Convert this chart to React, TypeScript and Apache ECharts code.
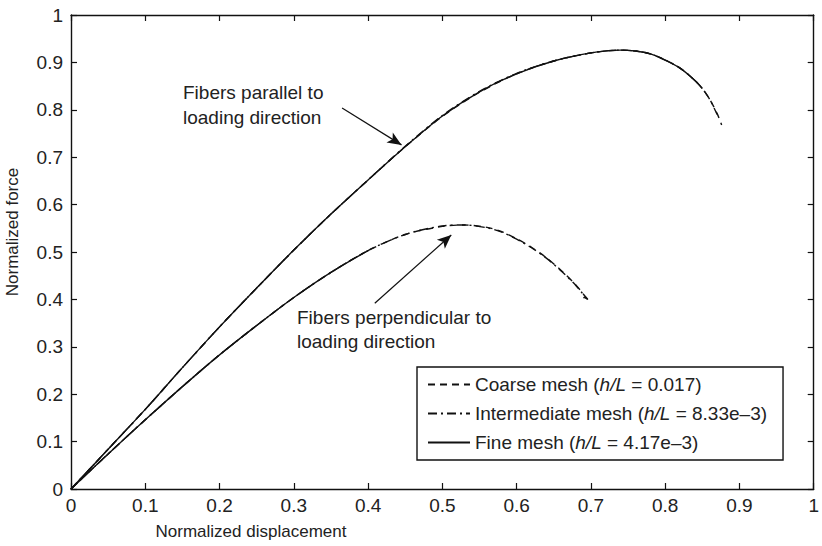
import React, { useEffect, useRef } from "react";
import * as echarts from "echarts";

const FONT = "'Liberation Sans', Arial, Helvetica, sans-serif";
const INK = "#111";

// tick labels
const xTickLabels = ["0", "0.1", "0.2", "0.3", "0.4", "0.5", "0.6", "0.7", "0.8", "0.9", "1"];
const yTickLabels = ["0", "0.1", "0.2", "0.3", "0.4", "0.5", "0.6", "0.7", "0.8", "0.9", "1"];

// Fibers parallel to loading direction
const parX = [0, 0.05, 0.1, 0.15, 0.2, 0.25, 0.3, 0.35, 0.4, 0.45, 0.5, 0.55, 0.6, 0.65, 0.7, 0.74, 0.76, 0.78, 0.8, 0.82, 0.84, 0.85, 0.86, 0.87, 0.876];
const parCoarse = [0, 0.084, 0.168, 0.256, 0.342, 0.424, 0.504, 0.58, 0.652, 0.722, 0.786, 0.837, 0.876, 0.903, 0.92, 0.926, 0.924, 0.918, 0.905, 0.888, 0.862, 0.845, 0.822, 0.792, 0.768];
const parInter = [0, 0.084, 0.168, 0.256, 0.342, 0.424, 0.504, 0.58, 0.652, 0.723, 0.788, 0.839, 0.877, 0.903, 0.92, 0.926, 0.924, 0.918, 0.905, 0.888, 0.862, 0.845, 0.822, 0.79];
const parFine = [0, 0.084, 0.168, 0.256, 0.342, 0.424, 0.504, 0.58, 0.652, 0.722, 0.787, 0.838, 0.876, 0.903, 0.92, 0.926, 0.924, 0.918, 0.905, 0.888, 0.862, 0.845];

// Fibers perpendicular to loading direction
const perpX = [0, 0.05, 0.1, 0.15, 0.2, 0.25, 0.3, 0.35, 0.4, 0.45, 0.5, 0.53, 0.56, 0.58, 0.6, 0.62, 0.64, 0.66, 0.68, 0.69, 0.696, 0.69];
const perpCoarse = [0, 0.074, 0.146, 0.216, 0.283, 0.345, 0.404, 0.457, 0.503, 0.537, 0.554, 0.557, 0.552, 0.543, 0.528, 0.51, 0.488, 0.461, 0.43, 0.411, 0.399, 0.404];
const perpInter = [0, 0.074, 0.146, 0.216, 0.283, 0.345, 0.404, 0.457, 0.503, 0.537, 0.555, 0.557, 0.551, 0.542, 0.527, 0.509, 0.487, 0.46, 0.429, 0.41, 0.4, 0.405];
const perpFine = [0, 0.074, 0.146, 0.216, 0.283, 0.345, 0.404, 0.457, 0.503];

const seriesNames = ["Coarse mesh", "Intermediate mesh", "Fine mesh"];
const legendRatios = ["0.017", "8.33e\u20133", "4.17e\u20133"];

// annotation arrows in data coordinates: [fromX, fromY, toX, toY]
const arrowParallel = [0.365, 0.804, 0.445, 0.726];
const arrowPerp = [0.409, 0.392, 0.512, 0.536];

const DASH: any = {
  "Coarse mesh": [7, 5],
  "Intermediate mesh": [9, 4, 2, 4],
  "Fine mesh": "solid",
};

function mk(name: string, xs: number[], ys: number[], extra: any = {}) {
  return {
    type: "line",
    name,
    data: ys.map((y, i) => [xs[i], y]),
    symbol: "none",
    showSymbol: false,
    smooth: 0.3,
    lineStyle: { color: INK, width: 1.4, type: DASH[name] },
    itemStyle: { color: INK },
    emphasis: { disabled: true },
    animation: false,
    ...extra,
  };
}

export default function App() {
  const ref = useRef<HTMLDivElement>(null);
  useEffect(() => {
    if (!ref.current) return;
    const chart = echarts.init(ref.current, undefined, { renderer: "svg" });
    const axisLine = { show: true, onZero: false, lineStyle: { color: INK, width: 1.4 } };
    const tick = { show: true, inside: true, length: 6, lineStyle: { color: INK, width: 1.2 } };
    const labelStyle = { fontFamily: FONT, fontSize: 19, color: "#222" };
    const option: any = {
      animation: false,
      backgroundColor: "#fff",
      grid: { left: 71, right: 1, top: 15, bottom: 57, containLabel: false },
      xAxis: [
        {
          type: "value", min: 0, max: 1, interval: 0.1, position: "bottom",
          axisLine, axisTick: tick, splitLine: { show: false },
          axisLabel: { ...labelStyle, margin: 7, formatter: (v: number) => xTickLabels[Math.round(v * 10)] },
        },
        {
          type: "value", min: 0, max: 1, interval: 0.1, position: "top",
          axisLine, axisTick: tick, splitLine: { show: false }, axisLabel: { show: false },
        },
      ],
      yAxis: [
        {
          type: "value", min: 0, max: 1, interval: 0.1, position: "left",
          axisLine, axisTick: tick, splitLine: { show: false },
          axisLabel: { ...labelStyle, margin: 8, formatter: (v: number) => yTickLabels[Math.round(v * 10)] },
        },
        {
          type: "value", min: 0, max: 1, interval: 0.1, position: "right",
          axisLine, axisTick: tick, splitLine: { show: false }, axisLabel: { show: false },
        },
      ],
      legend: {
        show: true,
        left: 417,
        top: 367,
        orient: "vertical",
        data: seriesNames,
        backgroundColor: "#fff",
        borderColor: INK,
        borderWidth: 1.4,
        borderRadius: 0,
        padding: [8, 16, 8, 10],
        itemWidth: 42,
        itemHeight: 14,
        itemGap: 10,
        selectedMode: false,
        itemStyle: { opacity: 0 },
        textStyle: {
          fontFamily: FONT, fontSize: 19, color: "#222",
          rich: {
            n: { fontFamily: FONT, fontSize: 19, color: "#222" },
            i: { fontFamily: FONT, fontSize: 19, color: "#222", fontStyle: "italic" },
          },
        },
        formatter: (name: string) => {
          const k = seriesNames.indexOf(name);
          return `{n|${name} (}{i|h/L}{n| = ${legendRatios[k]})}`;
        },
      },
      graphic: [
        {
          type: "text", x: 183, y: 80,
          style: { text: "Fibers parallel to\nloading direction", font: `19px ${FONT}`, fill: "#222", lineHeight: 25, textVerticalAlign: "top" },
        },
        {
          type: "text", x: 297, y: 305,
          style: { text: "Fibers perpendicular to\nloading direction", font: `19px ${FONT}`, fill: "#222", lineHeight: 24, textVerticalAlign: "top" },
        },
        {
          type: "text", x: 251, y: 531,
          style: { text: "Normalized displacement", font: `17px ${FONT}`, fill: "#222", textAlign: "center", textVerticalAlign: "middle" },
        },
        {
          type: "text", x: 12, y: 232, rotation: Math.PI / 2,
          style: { text: "Normalized force", font: `17px ${FONT}`, fill: "#222", textAlign: "center", textVerticalAlign: "middle" },
        },
      ],
      series: [
        mk("Fine mesh", parX, parFine, {
          markLine: {
            silent: true,
            symbol: ["none", "arrow"],
            symbolSize: [9, 14],
            label: { show: false },
            lineStyle: { color: INK, width: 1.2, type: "solid" },
            emphasis: { disabled: true },
            data: [
              [{ coord: [arrowParallel[0], arrowParallel[1]] }, { coord: [arrowParallel[2], arrowParallel[3]] }],
              [{ coord: [arrowPerp[0], arrowPerp[1]] }, { coord: [arrowPerp[2], arrowPerp[3]] }],
            ],
          },
        }),
        mk("Intermediate mesh", parX, parInter),
        mk("Coarse mesh", parX, parCoarse),
        mk("Fine mesh", perpX, perpFine),
        mk("Intermediate mesh", perpX, perpInter),
        mk("Coarse mesh", perpX, perpCoarse),
      ],
    };
    chart.setOption(option);
    return () => chart.dispose();
  }, []);
  return (
    <div
      ref={ref}
      style={{ position: "fixed", left: 0, top: 0, width: 822, height: 546, background: "#fff" }}
    />
  );
}
